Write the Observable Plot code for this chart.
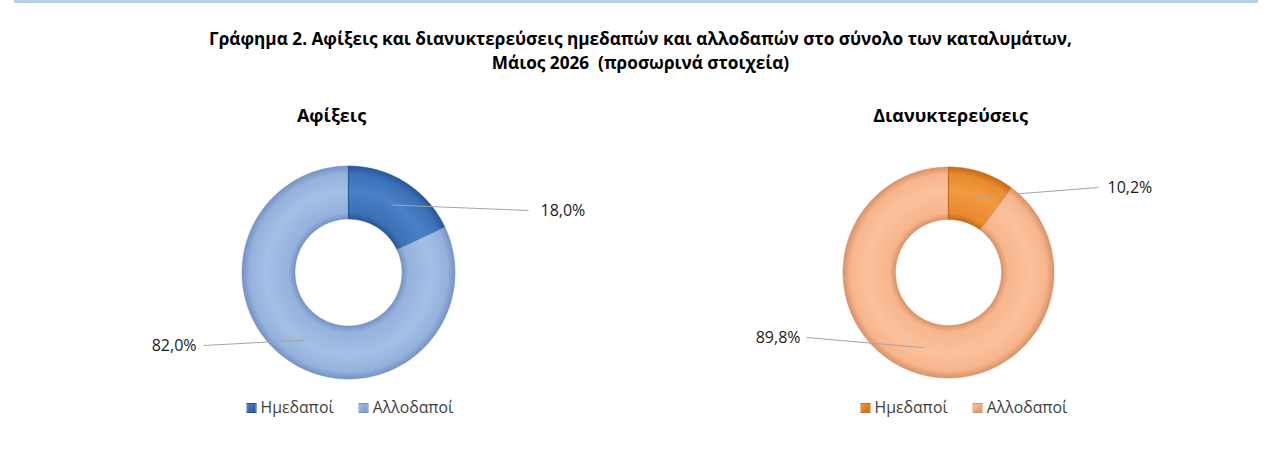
<!DOCTYPE html>
<html><head><meta charset="utf-8">
<script src="https://cdn.jsdelivr.net/npm/d3@7"></script>
<script src="https://cdn.jsdelivr.net/npm/@observablehq/plot@0.6"></script>
<style>
body{margin:0;background:#fff;font-family:"Open Sans",sans-serif;}
#page{position:relative;width:1281px;height:471px;overflow:hidden;background:#fff;}
#bar{position:absolute;left:14px;top:0;width:1244px;height:3px;background:#b8cce4;}
#title{position:absolute;left:0;top:27px;width:1281px;text-align:center;font-weight:700;font-size:17.2px;line-height:24px;color:#000;white-space:pre;}
#chart{position:absolute;left:0;top:95px;}
.legend{position:absolute;top:396px;transform:translateX(-50%);display:flex;gap:25px;font-size:15.8px;color:#404040;white-space:nowrap;align-items:center;}
.legend .sw{display:inline-block;width:10px;height:10px;margin-right:4px;vertical-align:middle;position:relative;top:-1px;}
</style></head>
<body>
<div id="page">
  <div id="bar"></div>
  <div id="title"></div>
  <div id="chart"></div>
</div>
<script>
// ---- data ----
const figureTitle = ["Γράφημα 2. Αφίξεις και διανυκτερεύσεις ημεδαπών και αλλοδαπών στο σύνολο των καταλυμάτων,", "Μάιος 2026  (προσωρινά στοιχεία)"];
const chartTitles = ["Αφίξεις", "Διανυκτερεύσεις"];
const categories = ["Ημεδαποί", "Αλλοδαποί"];
const arrivalsShares = [18.0, 82.0];
const overnightsShares = [10.2, 89.8];

// ---- layout & style (not data) ----
const W = 1281, H = 297;
const palettes = [
  [{base:"#3c71b8", light:"#4a80c6", dark:"#2a5596"}, {base:"#95b2dd", light:"#a4bfe5", dark:"#7692c4"}],
  [{base:"#e98a2d", light:"#f29a42", dark:"#c46a18"}, {base:"#f7b58c", light:"#fac19d", dark:"#d8926a"}]
];
const layout = [
  {cx:348, cy:177, R:106.5, r:53.5, titleX:331, legendX:350,
   labels:[{lx:528, ly:115, tx:540, anchor:"start"}, {lx:203, ly:250, tx:196, anchor:"end"}]},
  {cx:948, cy:177, R:105.5, r:53, titleX:950, legendX:964,
   labels:[{lx:1098, ly:92, tx:1107, anchor:"start"}, {lx:806, ly:242, tx:800, anchor:"end"}]}
];
const series = [arrivalsShares, overnightsShares];
const fmt = v => d3.format(".1f")(v).replace(".", ",") + "%";

document.getElementById("title").textContent = figureTitle.join("\n");

const marks = [];
series.forEach((vals, i) => {
  const L = layout[i];
  const total = d3.sum(vals);
  let acc = 0;
  vals.forEach((v, j) => {
    const a0 = acc / total * 2 * Math.PI;
    acc += v;
    const a1 = acc / total * 2 * Math.PI;
    const n = Math.max(8, Math.ceil((a1 - a0) / 0.01));
    const pts = [];
    for (let k = 0; k <= n; k++) { const a = a0 + (a1 - a0) * k / n; pts.push({x: L.cx + L.R * Math.sin(a), y: L.cy - L.R * Math.cos(a)}); }
    for (let k = n; k >= 0; k--) { const a = a0 + (a1 - a0) * k / n; pts.push({x: L.cx + L.r * Math.sin(a), y: L.cy - L.r * Math.cos(a)}); }
    pts.push(pts[0]);
    marks.push(Plot.line(pts, {x:"x", y:"y", fill:`url(#grad-${i}-${j})`, stroke: palettes[i][j].dark, strokeWidth:0.8, strokeOpacity:0.7, curve:"linear"}));
    // leader line from mid-ring to label
    const am = (a0 + a1) / 2, rm = (L.R + L.r) / 2;
    const lab = L.labels[j];
    marks.push(Plot.link([{x1: L.cx + rm * Math.sin(am), y1: L.cy - rm * Math.cos(am), x2: lab.lx, y2: lab.ly}],
      {x1:"x1", y1:"y1", x2:"x2", y2:"y2", stroke:"#a5a5a5", strokeWidth:1}));
    marks.push(Plot.text([fmt(v)], {x: () => lab.tx, y: () => lab.ly, text: d => d, textAnchor: lab.anchor, fontSize:16, fill:"#1a1a1a", dy:0}));
  });
  // separator at top (start of first slice)
  marks.push(Plot.link([0], {x1: () => L.cx, y1: () => L.cy - L.R, x2: () => L.cx, y2: () => L.cy - L.r, stroke: palettes[i][0].dark, strokeWidth:1.2}));
  marks.push(Plot.text([chartTitles[i]], {x: () => L.titleX, y: () => 21, text: d => d, fontSize:18, fontWeight:"bold", fill:"#000"}));
});

const svg = Plot.plot({
  width: W, height: H, margin: 0,
  x: {domain:[0, W], range:[0, W], axis:null},
  y: {domain:[0, H], range:[0, H], axis:null},
  style: {fontFamily:"'Open Sans', sans-serif", background:"transparent", overflow:"visible"},
  marks
});

const defs = d3.select(svg).insert("defs", ":first-child");
series.forEach((vals, i) => {
  const L = layout[i];
  vals.forEach((v, j) => {
    const p = palettes[i][j];
    const g = defs.append("radialGradient").attr("id", `grad-${i}-${j}`)
      .attr("gradientUnits", "userSpaceOnUse").attr("cx", L.cx).attr("cy", L.cy).attr("r", L.R);
    const k = L.r / L.R;
    [[k, p.dark], [k + 0.06, p.base], [k + (1 - k) * 0.55, p.light], [0.93, p.base], [1, p.dark]]
      .forEach(([o, c]) => g.append("stop").attr("offset", o).attr("stop-color", c));
  });
});

document.getElementById("chart").appendChild(svg);

// legends
series.forEach((vals, i) => {
  const div = document.createElement("div");
  div.className = "legend";
  div.style.left = layout[i].legendX + "px";
  categories.forEach((c, j) => {
    const p = palettes[i][j];
    const item = document.createElement("span");
    const sw = document.createElement("span");
    sw.className = "sw";
    sw.style.background = `linear-gradient(135deg, ${p.light}, ${p.dark})`;
    sw.style.border = `1px solid ${p.dark}`;
    sw.style.boxSizing = "border-box";
    item.appendChild(sw);
    item.appendChild(document.createTextNode(c));
    div.appendChild(item);
  });
  document.getElementById("page").appendChild(div);
});
</script>
</body></html>
